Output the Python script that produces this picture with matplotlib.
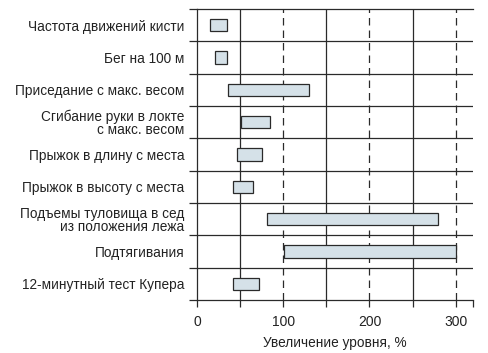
import matplotlib
matplotlib.use("Agg")
import matplotlib.pyplot as plt
import numpy as np

categories = [
    "Частота движений кисти",
    "Бег на 100 м",
    "Приседание с макс. весом",
    "Сгибание руки в локте\nс макс. весом",
    "Прыжок в длину с места",
    "Прыжок в высоту с места",
    "Подъемы туловища в сед\nиз положения лежа",
    "Подтягивания",
    "12-минутный тест Купера",
]
low = [15, 21, 36, 51, 46, 42, 81, 101, 42]
high = [35, 35, 130, 85, 75, 65, 280, 300, 72]
xticklabels = ["0", "100", "200", "300"]

plt.rcParams['font.family'] = ['Liberation Sans', 'DejaVu Sans']

fig = plt.figure(figsize=(4.89, 3.53), dpi=100)
ax = fig.add_axes([0.403, 0.150, 0.564, 0.825])

n = len(categories)
ypos = np.arange(n) + 0.5
widths = [h - l for l, h in zip(low, high)]
line_col = "#2a2a2a"

ax.set_xlim(0, 320)
ax.set_ylim(n, 0)

# vertical grid lines
for v in [50, 150, 250]:
    ax.axvline(v, color=line_col, lw=0.9, zorder=1)
for v in [100, 200, 300]:
    ax.axvline(v, color=line_col, lw=0.9, ls=(0, (6, 4)), zorder=1)
# horizontal row boundaries
for b in range(1, n):
    ax.axhline(b, color=line_col, lw=0.9, zorder=1)

ax.barh(ypos, widths, left=low, height=0.38, color="#d5e1e8",
        edgecolor=line_col, linewidth=0.9, zorder=3)

ax.set_yticks(np.arange(n + 1))
ax.set_yticklabels([])
ax.set_yticks(ypos, minor=True)
ax.set_yticklabels(categories, minor=True, fontsize=9.8, color="#222222",
                   linespacing=0.95)
ax.tick_params(axis='y', which='major', length=6, width=0.9, color=line_col, direction='out')
ax.tick_params(axis='y', which='minor', length=0, pad=9)

ax.set_xticks([0, 50, 100, 150, 200, 250, 300, 320])
ax.set_xticklabels(["0", "", "100", "", "200", "", "300", ""], fontsize=10, color="#222222")
ax.tick_params(axis='x', length=5, width=0.9, color=line_col, direction='out', pad=6)

for s in ["left", "bottom", "top"]:
    ax.spines[s].set_color(line_col)
    ax.spines[s].set_linewidth(0.9)
ax.spines["right"].set_visible(False)

ax.set_xlabel("Увеличение уровня, %", fontsize=9.8, color="#222222", labelpad=5)

fig.savefig("out.png", dpi=100)
